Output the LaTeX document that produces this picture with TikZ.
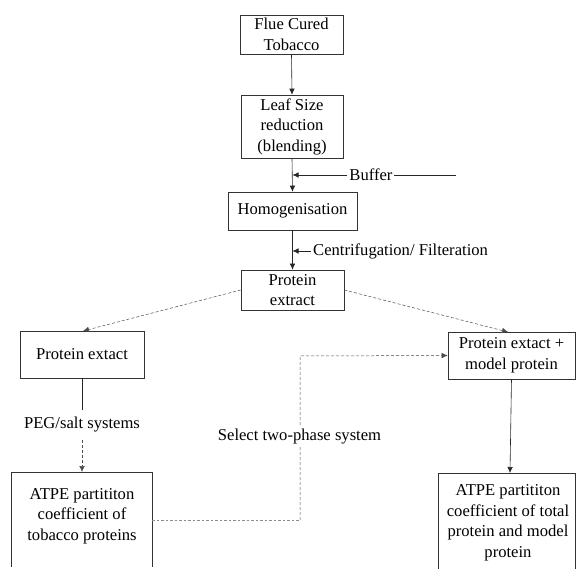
\documentclass[tikz,border=0pt]{standalone}
\usepackage{fontspec}
\setmainfont{Liberation Serif}
\usetikzlibrary{arrows.meta}
\begin{document}
\begin{tikzpicture}[x=1pt,y=-1pt,
  every node/.style={font=\fontsize{16.6}{20.5}\selectfont, inner sep=0pt, align=center},
  box/.style={draw=black!80, line width=0.6pt},
  conn/.style={line width=0.6pt, draw=black!85},
  tip/.style={-{Latex[length=6pt,width=5.5pt]}},
  dashln/.style={dashed, dash pattern=on 3pt off 2pt, line width=0.5pt, draw=black!70},
  faint/.style={dashed, dash pattern=on 2.5pt off 2pt, line width=0.5pt, draw=black!45}]
\useasboundingbox (0,0) rectangle (576,569);
% boxes
\node[box, minimum width=103pt, minimum height=39pt] (b1) at (291.5,34.5) {Flue Cured\\Tobacco};
\node[box, minimum width=102pt, minimum height=63pt] (b2) at (292,126.5) {Leaf Size\\reduction\\(blending)};
\node[box, minimum width=129pt, minimum height=38pt] (b3) at (292.5,211) {Homogenisation};
\node[box, minimum width=103pt, minimum height=40pt] (b4) at (292.5,290) {Protein\\extract};
\node[box, minimum width=124pt, minimum height=47pt] (b5) at (82,354.5) {Protein extact};
\node[box, minimum width=127pt, minimum height=47pt] (b7) at (511.5,355.5) {Protein extact +\\model protein};
\node (b6) at (82,516) {ATPE partititon\\coefficient of\\tobacco proteins};
\node (b8) at (508,523) {ATPE partititon\\coefficient of total\\protein and model\\protein};
\draw[box] (11,567) -- (11,472) -- (152,472) -- (152,567);
\draw[box] (438,569) -- (438,473) -- (575,473) -- (575,569);
\coordinate (b6top) at (82,472);
\coordinate (b8top) at (510,473);
% main chain
\draw[conn,tip] (b1.south) -- (b2.north);
\draw[conn,tip] (b2.south) -- (b3.north);
\draw[conn,tip] (b3.south) -- (b4.north);
\coordinate (bufEnd) at (456,175);
\coordinate (bufTip) at (292.5,175);
\draw[conn,tip] (bufEnd) -- node[pos=0.52, fill=white, inner xsep=2pt] (buf) {Buffer} (bufTip);
\node[anchor=west] (cent) at (313,251) {Centrifugation/ Filteration};
\coordinate (centTip) at (292.5,251);
\draw[conn,tip] ([xshift=-2pt]cent.west) -- (centTip);
% branches
\coordinate (b5top) at (83,331);
\coordinate (b7top) at (508,332);
\draw[dashln,tip] (b4.west) -- (b5top);
\draw[dashln,tip] (b4.east) -- (b7top);
% left column
\node (peg) at (82,425) {PEG/salt systems};
\draw[conn] (b5.south) -- (82,410);
\draw[dashln,tip] (82,440) -- (b6top);
% right column
\draw[conn,tip] (b7.south) -- (b8top);
% select two-phase system
\coordinate (s1) at (152,520);
\coordinate (s2) at (300,520);
\coordinate (s3) at (300,356);
\draw[faint] (s1) -- (s2);
\draw[dashln,tip] (s2) -- (s3) -- (b7.west);
\node[fill=white, inner xsep=1pt, inner ysep=2pt] (sel) at (299.5,437) {Select two-phase system};
\end{tikzpicture}
\end{document}
